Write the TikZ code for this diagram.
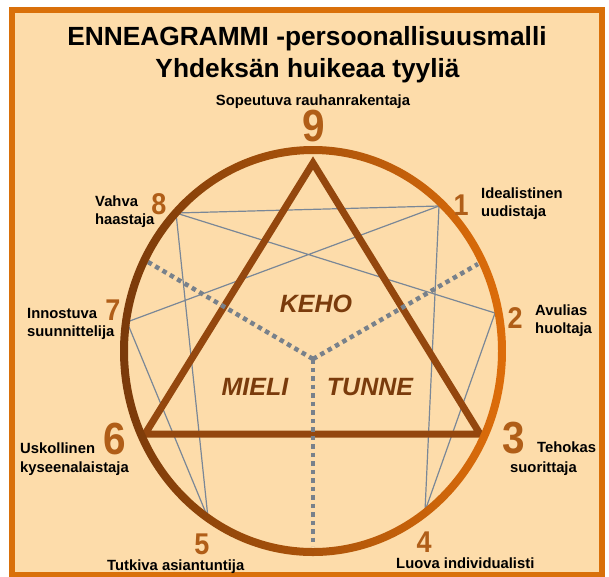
\documentclass[tikz,border=0pt]{standalone}
\usepackage{fontspec}
\setmainfont{Liberation Sans}
\definecolor{bgfill}{HTML}{FDDCAA}
\definecolor{frameC}{HTML}{D9700A}
\definecolor{ringL}{HTML}{7A3A0A}
\definecolor{ringM}{HTML}{A3500F}
\definecolor{ringR}{HTML}{DD6D0A}
\definecolor{triC}{HTML}{94470E}
\definecolor{numC}{HTML}{B05E18}
\definecolor{thinC}{HTML}{7A8797}
\definecolor{dotC}{HTML}{78818B}
\definecolor{centerC}{HTML}{7A3B0C}
\tikzset{
  lbl/.style={font=\bfseries\fontsize{14.8}{18}\selectfont, inner sep=0pt, anchor=base west, text=black},
  ttl/.style={font=\bfseries\fontsize{26.3}{30}\selectfont, inner sep=0pt, anchor=base, text=black},
  bignum/.style={font=\bfseries\fontsize{45}{45}\selectfont, inner sep=0pt, text=numC},
  smallnum/.style={font=\bfseries\fontsize{30}{30}\selectfont, inner sep=0pt, text=numC},
  thinline/.style={draw=thinC, line width=1.2pt},
  dotline/.style={draw=dotC, line width=4.5pt, dash pattern=on 4.5pt off 4pt},
  ctext/.style={font=\bfseries\itshape\fontsize{25}{25}\selectfont, inner sep=0pt, text=centerC}
}
\begin{document}
\begin{tikzpicture}[x=1pt,y=-1pt]
\useasboundingbox (0,0) rectangle (609,576);
\fill[white] (0,0) rectangle (609,576);
% frame
\draw[draw=frameC, fill=bgfill, line width=6pt] (12,10) rectangle (602,575);

% title
\node[ttl] (title1) at (307,45) {ENNEAGRAMMI -persoonallisuusmalli};
\node[ttl] (title2) at (307.5,77) {Yhdeksän huikeaa tyyliä};

% points
\coordinate (p1) at (439,206);
\coordinate (p2) at (495,313);
\coordinate (p4) at (425,511);
\coordinate (p5) at (208,518);
\coordinate (p7) at (127,322);
\coordinate (p8) at (176,213);
\coordinate (t9) at (313,163);
\coordinate (t6) at (145,434);
\coordinate (t3) at (480,434);
\coordinate (ctr) at (313,359);
\coordinate (dL) at (148,262);
\coordinate (dR) at (478,264);
\coordinate (dB) at (313,546);

% thin lines
\draw[thinline] (p1) -- (p4) -- (p2) -- (p8) -- (p5) -- (p7) -- cycle;
\draw[thinline] (p8) -- (p1);

% triangle
\draw[draw=triC, line width=7pt, line join=miter] (t9) -- (t6) -- (t3) -- cycle;

% dotted
\draw[dotline] (ctr) -- (dL);
\draw[dotline] (ctr) -- (dR);
\draw[dotline] (ctr) -- (dB);

% ring
\shade[left color=ringL, middle color=ringM, right color=ringR, even odd rule]
  (313,351) ellipse [x radius=193pt, y radius=205pt]
  (313,351) ellipse [x radius=185pt, y radius=197pt];

% centre words
\node[ctext] (keho) at (316,304) {KEHO};
\node[ctext] (mieli) at (255,387) {MIELI};
\node[ctext] (tunne) at (370,387) {TUNNE};

% numbers
\node[bignum] (n9) at (314,126) {\scalebox{0.9}[1]{9}};
\node[bignum] (n6) at (115,439) {\scalebox{0.9}[1]{6}};
\node[bignum] (n3) at (514,438) {\scalebox{0.9}[1]{3}};
\node[smallnum] (n8) at (159,204) {\scalebox{0.9}[1]{8}};
\node[smallnum] (n7) at (113,310) {\scalebox{0.9}[1]{7}};
\node[smallnum] (n1) at (461,205) {\scalebox{0.9}[1]{1}};
\node[smallnum] (n2) at (515,318) {\scalebox{0.9}[1]{2}};
\node[smallnum] (n5) at (202,544) {\scalebox{0.9}[1]{5}};
\node[smallnum] (n4) at (424,542) {\scalebox{0.9}[1]{4}};

% labels
\node[lbl, anchor=base] (l9) at (313,105) {Sopeutuva rauhanrakentaja};
\node[lbl] (l8a) at (95,206) {Vahva};
\node[lbl] (l8b) at (95,224) {haastaja};
\node[lbl] (l7a) at (27,318) {Innostuva};
\node[lbl] (l7b) at (27,336) {suunnittelija};
\node[lbl] (l1a) at (481,198) {Idealistinen};
\node[lbl] (l1b) at (481,216) {uudistaja};
\node[lbl] (l2a) at (535,315) {Avulias};
\node[lbl] (l2b) at (535,333) {huoltaja};
\node[lbl] (l6a) at (20,453) {Uskollinen};
\node[lbl] (l6b) at (20,472) {kyseenalaistaja};
\node[lbl] (l3a) at (537,452) {Tehokas};
\node[lbl] (l3b) at (510,472) {suorittaja};
\node[lbl] (l5) at (107,570) {Tutkiva asiantuntija};
\node[lbl] (l4) at (396,568) {Luova individualisti};
\end{tikzpicture}
\end{document}
